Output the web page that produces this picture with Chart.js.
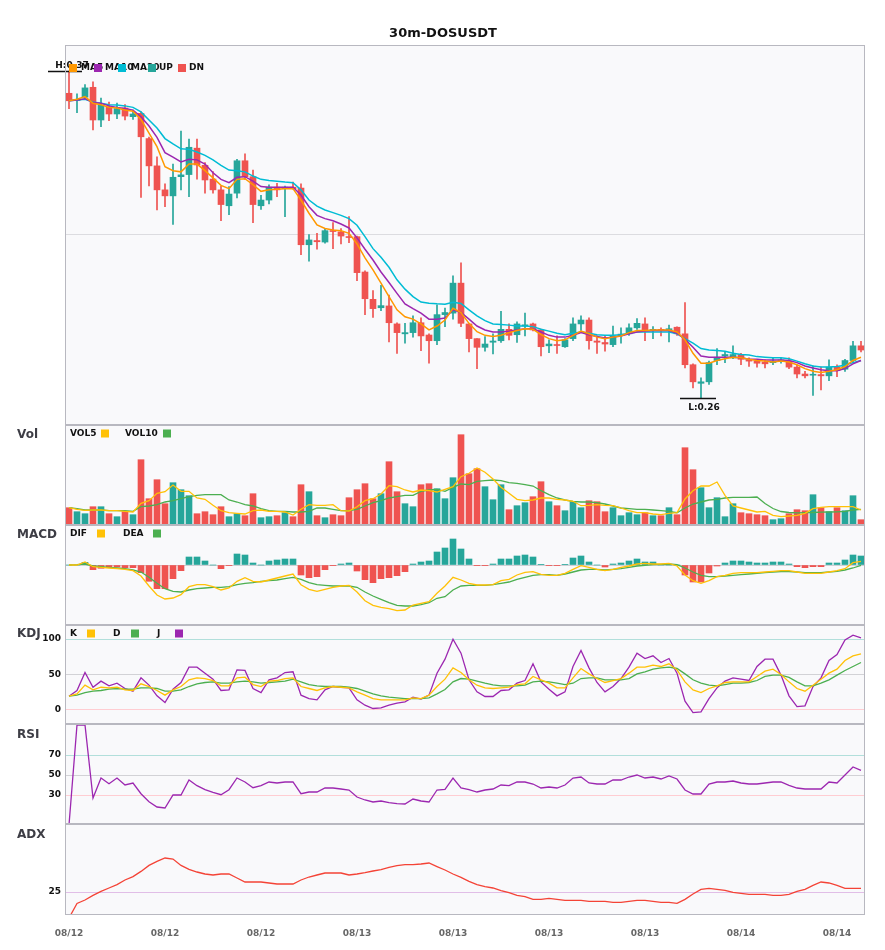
<!DOCTYPE html>
<html><head><meta charset="utf-8">
<script src="https://cdn.jsdelivr.net/npm/chart.js@4.4.1/dist/chart.umd.min.js"></script>
<style>
html,body{margin:0;padding:0;background:#fff;}
#wrap{position:relative;width:885px;height:950px;overflow:hidden;}
canvas{position:absolute;left:0;}
</style></head><body>
<div id="wrap">
<canvas id="cMain" width="885" height="425" style="top:0px"></canvas>
<canvas id="cVol" width="885" height="100" style="top:425px"></canvas>
<canvas id="cMacd" width="885" height="100" style="top:525px"></canvas>
<canvas id="cKdj" width="885" height="99" style="top:625px"></canvas>
<canvas id="cRsi" width="885" height="100" style="top:724px"></canvas>
<canvas id="cAdx" width="885" height="126" style="top:824px"></canvas>
</div>
<script>
// ---------- DATA ----------
const tickLabels = ['08/12','08/12','08/12','08/13','08/13','08/13','08/13','08/14','08/14'];
const labelEvery = 12;

const open = [.3626,.3602,.3613,.3646,.3537,.3581,.3557,.3577,.3548,.3559,
.3475,.3384,.3304,.3284,.3348,.3355,.3443,.3386,.3340,.3304,
.3251,.3293,.3401,.3348,.3251,.3270,.3313,.3308,.3313,.3310,
.3121,.3135,.3130,.3168,.3164,.3148,.3148,.3030,.2939,.2911,
.2917,.2857,.2824,.2828,.2861,.2820,.2801,.2888,.2893,.2993,
.2857,.2808,.2779,.2796,.2801,.2839,.2821,.2850,.2857,.2837,
.2784,.2788,.2781,.2808,.2857,.2870,.2800,.2795,.2788,.2818,
.2824,.2844,.2857,.2835,.2839,.2837,.2846,.2824,.2721,.2659,
.2664,.2735,.2750,.2744,.2755,.2737,.2733,.2730,.2728,.2733,
.2733,.2713,.2690,.2686,.2688,.2684,.2713,.2706,.2735,.2784];
const high = [.3700,.3624,.3655,.3664,.3610,.3597,.3593,.3588,.3570,.3564,
.3480,.3414,.3324,.3390,.3500,.3473,.3473,.3395,.3365,.3317,
.3315,.3406,.3424,.3370,.3286,.3321,.3326,.3317,.3330,.3324,
.3155,.3159,.3173,.3195,.3175,.3215,.3150,.3034,.2968,.2986,
.2953,.2861,.2859,.2884,.2877,.2824,.2921,.2910,.3017,.3061,
.2857,.2808,.2815,.2824,.2899,.2857,.2864,.2893,.2860,.2840,
.2804,.2817,.2808,.2877,.2884,.2877,.2817,.2817,.2850,.2844,
.2857,.2875,.2877,.2848,.2844,.2853,.2847,.2928,.2724,.2677,
.2733,.2775,.2764,.2784,.2759,.2744,.2737,.2737,.2746,.2744,
.2744,.2721,.2699,.2717,.2713,.2737,.2721,.2739,.2799,.2799];
const low = [.3575,.3561,.3606,.3504,.3515,.3535,.3541,.3537,.3539,.3279,
.3317,.3237,.3248,.3189,.3304,.3281,.3340,.3293,.3293,.3201,
.3221,.3277,.3339,.3195,.3239,.3257,.3281,.3215,.3306,.3088,
.3066,.3106,.3126,.3108,.3124,.3128,.3001,.2888,.2879,.2901,
.2797,.2759,.2793,.2813,.2768,.2726,.2788,.2848,.2873,.2848,
.2764,.2708,.2766,.2757,.2795,.2804,.2795,.2817,.2834,.2750,
.2761,.2759,.2779,.2801,.2835,.2773,.2759,.2766,.2781,.2793,
.2819,.2839,.2801,.2808,.2817,.2797,.2819,.2710,.2644,.2610,
.2655,.2721,.2728,.2741,.2721,.2715,.2713,.2710,.2721,.2726,
.2708,.2677,.2677,.2619,.2637,.2668,.2681,.2699,.2728,.2764];
const close = [.3601,.3605,.3644,.3537,.3586,.3557,.3575,.3550,.3557,.3481,
.3384,.3304,.3284,.3346,.3354,.3446,.3387,.3337,.3304,.3255,
.3290,.3401,.3348,.3255,.3270,.3313,.3304,.3313,.3308,.3121,
.3137,.3131,.3168,.3165,.3150,.3145,.3028,.2941,.2908,.2918,
.2861,.2828,.2828,.2861,.2817,.2801,.2888,.2895,.2993,.2859,
.2808,.2779,.2790,.2800,.2839,.2819,.2857,.2854,.2837,.2781,
.2790,.2785,.2804,.2857,.2870,.2801,.2796,.2790,.2817,.2823,
.2844,.2859,.2835,.2839,.2835,.2841,.2824,.2721,.2664,.2664,
.2728,.2746,.2755,.2755,.2739,.2733,.2726,.2724,.2733,.2737,
.2713,.2690,.2684,.2688,.2684,.2713,.2701,.2735,.2784,.2770];

const ma5 = [.3601,.3606,.3615,.3593,.3588,.3579,.3577,.3570,.3566,.3539,
.3493,.3448,.3381,.3368,.3364,.3390,.3390,.3368,.3344,.3319,
.3308,.3339,.3341,.3321,.3299,.3304,.3306,.3308,.3308,.3270,
.3226,.3187,.3175,.3170,.3168,.3159,.3124,.3077,.3037,.2993,
.2948,.2904,.2881,.2873,.2857,.2837,.2850,.2870,.2909,.2895,
.2859,.2831,.2819,.2815,.2819,.2828,.2835,.2841,.2839,.2821,
.2808,.2801,.2804,.2819,.2833,.2824,.2813,.2808,.2813,.2817,
.2828,.2835,.2835,.2837,.2837,.2837,.2830,.2804,.2759,.2726,
.2726,.2735,.2741,.2746,.2744,.2739,.2735,.2733,.2730,.2733,
.2730,.2721,.2708,.2699,.2695,.2699,.2704,.2715,.2735,.2746];
const ma10 = [.3601,.3604,.3608,.3595,.3593,.3584,.3579,.3575,.3570,.3548,
.3517,.3479,.3428,.3413,.3397,.3406,.3404,.3390,.3361,.3339,
.3328,.3346,.3348,.3333,.3315,.3313,.3313,.3313,.3313,.3287,
.3248,.3219,.3208,.3201,.3190,.3177,.3144,.3106,.3070,.3030,
.2995,.2959,.2924,.2908,.2893,.2873,.2873,.2877,.2904,.2895,
.2873,.2850,.2837,.2830,.2830,.2833,.2837,.2841,.2841,.2830,
.2819,.2813,.2813,.2819,.2828,.2821,.2815,.2810,.2813,.2817,
.2824,.2830,.2833,.2835,.2835,.2835,.2826,.2806,.2779,.2750,
.2746,.2746,.2746,.2746,.2744,.2739,.2739,.2737,.2737,.2737,
.2735,.2728,.2717,.2710,.2704,.2701,.2701,.2708,.2724,.2735];
const ma20 = [.3601,.3604,.3606,.3597,.3593,.3588,.3587,.3584,.3579,.3564,
.3537,.3510,.3475,.3457,.3441,.3439,.3430,.3419,.3404,.3386,
.3370,.3368,.3364,.3350,.3339,.3335,.3333,.3330,.3328,.3304,
.3270,.3250,.3237,.3228,.3219,.3208,.3186,.3148,.3108,.3079,
.3046,.3004,.2973,.2948,.2930,.2926,.2924,.2923,.2929,.2925,
.2904,.2884,.2868,.2857,.2855,.2853,.2850,.2850,.2848,.2839,
.2833,.2826,.2821,.2826,.2830,.2826,.2821,.2819,.2819,.2821,
.2826,.2830,.2830,.2830,.2830,.2830,.2824,.2808,.2793,.2775,
.2770,.2768,.2766,.2759,.2755,.2753,.2748,.2746,.2744,.2744,
.2741,.2733,.2724,.2717,.2713,.2713,.2715,.2719,.2728,.2735];

const volume = [173,133,113,183,183,113,83,133,103,653,
263,453,213,423,353,293,113,133,103,183,
83,113,93,313,73,83,93,123,83,403,
333,93,73,103,93,273,353,413,263,313,
633,333,213,183,403,413,363,263,473,903,
513,563,383,253,403,153,193,223,283,433,
233,193,143,233,173,243,233,133,173,93,
123,103,123,93,93,173,103,773,553,373,
173,273,83,213,123,113,103,93,53,63,
113,153,143,303,173,133,173,143,293,53];
const vol5 = [173,157,147,150,150,143,143,137,130,217,
243,317,333,400,337,337,270,257,197,143,
123,117,110,143,150,137,137,130,100,157,
203,197,197,203,143,140,183,243,263,310,
393,383,350,330,350,343,330,357,383,483,
517,570,527,460,377,317,257,243,250,270,
270,257,250,237,193,197,203,197,193,170,
143,123,123,110,103,117,123,260,343,390,
390,430,297,190,170,150,130,137,97,83,
90,97,117,163,177,183,183,183,183,150];
const vol10 = [173,163,150,150,150,143,143,143,137,183,
190,203,230,243,263,283,297,303,303,303,
250,230,203,190,163,143,137,137,130,130,
137,170,170,157,143,143,157,190,223,243,
270,283,297,297,337,350,357,337,377,410,
403,437,443,450,443,423,417,403,390,343,
303,270,250,237,230,230,223,210,190,170,
163,157,157,150,143,137,123,170,210,230,
250,257,270,277,277,277,280,215,165,135,
125,122,123,125,128,130,132,137,150,157];

const macdHist = [0,0,0.00027,-0.00047,-0.00033,-0.00027,-0.0002,-0.00027,-0.00027,-0.00077,
-0.00163,-0.00237,-0.00237,-0.00137,-0.00057,0.0008,0.0008,0.0004,0,-0.00037,
-0.00007,0.0011,0.001,0.0002,0,0.0004,0.0005,0.0006,0.0006,-0.001,
-0.00127,-0.00117,-0.00047,-0.00007,0.0001,0.0002,-0.0006,-0.00147,-0.00177,-0.00137,
-0.00127,-0.00107,-0.00067,0.0001,0.0003,0.0004,0.0013,0.0017,0.0026,0.0016,
0.0006,-0.00007,-0.00007,0.0001,0.0006,0.0006,0.0009,0.001,0.0008,0.00007,
-0.00007,-0.00007,0.00007,0.0007,0.0009,0.0003,0,-0.0002,0.0001,0.0002,
0.0004,0.0006,0.0003,0.0003,0,0,0,-0.001,-0.0017,-0.0017,
-0.0008,-0.0001,0.0002,0.0004,0.0004,0.0003,0.0002,0.0002,0.0003,0.0003,
0.0001,-0.00017,-0.00027,-0.00017,-0.00017,0.0002,0.0002,0.0005,0.001,0.0009];
const dif = [0,0,0.0003,-0.00017,-0.00023,-0.0003,-0.00037,-0.00043,-0.00057,-0.0011,
-0.0021,-0.003,-0.0034,-0.0033,-0.00297,-0.00217,-0.00197,-0.00197,-0.00217,-0.0025,
-0.0023,-0.00163,-0.00127,-0.00163,-0.0017,-0.0015,-0.0013,-0.0011,-0.0009,-0.00197,
-0.00243,-0.00263,-0.00243,-0.00223,-0.0021,-0.00203,-0.0027,-0.00357,-0.00403,-0.00423,
-0.00437,-0.00457,-0.0045,-0.004,-0.00383,-0.00367,-0.00283,-0.0021,-0.00123,-0.0015,
-0.00183,-0.002,-0.002,-0.00197,-0.00157,-0.00143,-0.001,-0.00073,-0.00067,-0.00093,
-0.00103,-0.00103,-0.00083,-0.00043,-0.00007,-0.00023,-0.00043,-0.00057,-0.00043,-0.00023,
-0.0001,0.0001,0.00017,0.0001,0.0001,0.00017,-0.0001,-0.001,-0.00157,-0.00183,
-0.00157,-0.00117,-0.00103,-0.00083,-0.00077,-0.00077,-0.00077,-0.0007,-0.00063,-0.00057,
-0.00057,-0.0007,-0.00083,-0.00083,-0.00083,-0.0007,-0.00057,-0.00037,0.00023,0.00037];
const dea = [0,0.00003,0.0001,-0.0001,-0.00017,-0.00023,-0.0003,-0.00037,-0.0005,-0.0007,
-0.00123,-0.00183,-0.00237,-0.00263,-0.0027,-0.0025,-0.00237,-0.0023,-0.00223,-0.00223,
-0.00217,-0.00197,-0.00183,-0.00177,-0.00163,-0.00157,-0.0015,-0.00137,-0.00123,-0.00143,
-0.00177,-0.00197,-0.00203,-0.0021,-0.0021,-0.0021,-0.00223,-0.0027,-0.0031,-0.00343,
-0.00377,-0.00403,-0.0041,-0.0041,-0.00397,-0.00377,-0.00333,-0.00317,-0.0025,-0.0021,
-0.00203,-0.00203,-0.00203,-0.00197,-0.00183,-0.0017,-0.00143,-0.00123,-0.00103,-0.00097,
-0.00097,-0.00103,-0.0009,-0.0007,-0.0005,-0.00043,-0.00043,-0.0005,-0.00043,-0.00037,
-0.00023,-0.0001,-0.00003,0.00003,0.00007,0.0001,0.00003,-0.0003,-0.0007,-0.00103,
-0.00117,-0.00117,-0.0011,-0.00103,-0.00097,-0.0009,-0.00083,-0.00077,-0.0007,-0.00067,
-0.00067,-0.0007,-0.00077,-0.00077,-0.00077,-0.0007,-0.00063,-0.0005,-0.0003,-0.00003];

const kLine = [19.3,22.6,34.9,28.3,32,31,32,28.3,27.4,36.8,
33,27.4,20.8,28.3,33,42.5,45.3,44.3,41.5,34,
34,45.3,46.2,35.8,33,40.6,41.5,44.3,45.3,33,
30.2,27.4,31.1,33,32,31.1,25.5,20.8,16,14.2,
14.2,14.2,14.2,17,16,20.8,33,43.4,59.4,52.8,
42.5,34.9,31.1,30.2,31.1,32,35.8,36.8,47.2,42.5,
37.7,31.1,31.1,45.3,58.5,50.9,44.3,38.7,41.5,44.3,
51.9,60.4,60.4,63.2,61.3,65.1,56.6,39.6,28.3,24.5,
30.2,34,38.7,39.6,39.6,39.6,47.2,54.7,57.5,50,
39.6,30.2,26.4,34.9,43.4,51.9,57.5,69.8,76.4,79.2];
const dLine = [19.3,20.8,24.5,26.4,27.4,29.2,30.2,29.2,29.2,31.1,
31.1,30.2,26.4,26.4,28.3,33,36.8,38.7,39.6,37.7,
37.7,39.6,40.6,39.6,37.7,38.7,39.6,40.6,43.4,39.6,
35.8,34,33,33,33,32,30.2,26.4,22.6,19.8,
17.9,17,16,16,16,17,22.6,28.8,39.6,44.3,
43.4,40.6,37.7,35.4,34,34,34,35,39.6,40.6,
39.6,37.7,35.8,37.7,44.3,45.3,45.3,42.5,42.5,42.5,
44.3,50.9,53.8,57.5,59.4,60.4,58.5,50.9,42.5,37.7,
35,34,35.8,37.7,37.7,38.7,41.5,47.2,49.1,49.1,
45.8,39.6,34,34,37.7,42.5,49.1,55.7,61.3,67];
const jLine = [19.3,27.4,52.8,32,40.6,34,37.7,30.2,26.4,45.3,
35,19.8,10.4,29.2,38.7,60.4,60.4,51.9,43.4,27.4,
28.3,56.6,55.7,30.2,24.5,42.5,45.3,52.8,53.8,20.8,
16,14.2,28.3,33,32,31.1,14.2,6.6,1.9,2.8,
6.6,9.4,11.3,17.9,15.1,20.8,51.9,71.7,100,80.2,
42.5,25.5,18.9,18.9,27.4,28.3,37.7,41.5,65.1,39.6,
29.2,19.8,25.5,61.3,84,59.4,38.7,25.5,33,44.3,
60.4,80.2,72.6,76.4,67,72.6,51.9,12.3,-3.8,-2.8,
16,31.1,40.6,45.3,43.4,41.5,61.3,71.7,71.7,49.1,
19.8,4.7,5.7,33,45.3,69.8,78.3,99,105.7,101.9];

const rsi = [0,100,100,27,47,41.3,47,40,42,31.3,
23.3,18,17,30,30,45,39.3,35.3,32.7,30.3,
35.3,47,43,37.3,39.3,43,42,43,43,31.3,
33,33,37,37,36,35,28,25,23,24,
22.3,21.3,21,26,24,23,35,35.7,47,37,
35.3,33,35,36,40,39.3,43,43,41,37,
38,37,40,47,48,42,41,41,45,45,
48,50,47,48,46,49,46,35,31,31,
41,43,43,44,42,41,41,42,43,43,
39.7,37,36,36,36,43,42,50,58,54.7];

const adx = [12,19.3,21,23.3,25.3,27,28.7,31,32.7,35.3,
38.3,40.3,42,41.5,38.3,36.3,35,34,33.5,34,
34,32,30,30,30,29.5,29,29,29,31,
32.5,33.5,34.5,34.5,34.5,33.5,34,34.7,35.5,36.2,
37.3,38.2,38.7,38.7,39,39.5,37.7,36,34,32.3,
30.3,28.7,27.7,27,25.7,24.7,23.3,22.7,21.3,21.3,
21.8,21.3,20.8,20.8,20.8,20.3,20.3,20.3,19.8,19.8,
20.3,20.8,20.8,20.3,19.8,19.8,19.3,21.3,24,26.3,
26.8,26.3,25.8,24.8,24.3,23.8,23.8,23.8,23.3,23.3,
23.8,25.3,26.3,28.3,30,29.5,28.3,26.8,26.8,26.8];

// ---------- STYLE ----------
const FONT = '"DejaVu Sans", "Liberation Sans", sans-serif';
const UP = '#26a69a', DN = '#ef5350';
const C_ORANGE = '#ff9800', C_PURPLE = '#9c27b0', C_CYAN = '#00bcd4';
const C_YELLOW = '#ffc107', C_GREEN = '#4caf50', C_ADX = '#f44336';
const categories = close.map((_, i) => i);
const candleColor = close.map((c, i) => c >= open[i] ? UP : DN);

function makeOptions(cfg) {
  return {
    responsive: false, animation: false, devicePixelRatio: 1,
    layout: { padding: { left: 0, right: 20, top: cfg.padTop || 0, bottom: 0 } },
    plugins: { legend: { display: false }, tooltip: { enabled: false }, title: { display: false } },
    scales: {
      x: {
        type: 'category', offset: true, display: !!cfg.showX,
        grid: { display: false, drawTicks: false }, border: { display: false },
        ticks: {
          autoSkip: false, maxRotation: 0, minRotation: 0, padding: 13, color: '#666',
          font: { family: FONT, size: 9, weight: 'bold' },
          callback: (v, i) => (i % labelEvery === 0 ? tickLabels[i / labelEvery] : '')
        },
        afterFit: s => { if (cfg.showX) s.height = 35; s.paddingLeft = 0; s.paddingRight = 0; }
      },
      y: {
        type: 'linear', position: 'left', min: cfg.min, max: cfg.max,
        border: { display: false },
        grid: { drawTicks: false, lineWidth: 1, color: c => cfg.gridColor(c.tick ? c.tick.value : null) },
        ticks: { display: !!cfg.showLabels, padding: 4, color: '#111', font: { family: FONT, size: 9, weight: 'bold' } },
        afterBuildTicks: s => { s.ticks = cfg.tickVals.map(v => ({ value: v })); },
        afterFit: s => { s.width = 65; s.paddingTop = 0; s.paddingBottom = 0; }
      }
    }
  };
}

function panelPlugin(cfg) {
  return {
    id: 'panel_' + cfg.name,
    beforeDraw(chart) {
      const { ctx, chartArea: a } = chart;
      ctx.save();
      ctx.fillStyle = '#f9f9fb';
      ctx.fillRect(a.left, a.top, a.right - a.left, a.bottom - a.top);
      ctx.restore();
    },
    afterDraw(chart) {
      const { ctx, chartArea: a } = chart;
      ctx.save();
      ctx.strokeStyle = '#b8b8c0'; ctx.lineWidth = 1;
      ctx.strokeRect(a.left + 0.5, a.top + 0.5, a.right - a.left - 1, a.bottom - a.top - 1);
      ctx.textBaseline = 'middle'; ctx.textAlign = 'left';
      if (cfg.title) {
        ctx.font = 'bold 13px ' + FONT; ctx.fillStyle = '#111'; ctx.textAlign = 'center';
        ctx.fillText(cfg.title, 443, 34);
        ctx.textAlign = 'left';
      }
      if (cfg.label) {
        ctx.font = 'bold 12px ' + FONT; ctx.fillStyle = '#3d3d45';
        ctx.fillText(cfg.label, 17, cfg.labelY);
      }
      if (cfg.extra) cfg.extra(chart, ctx);
      if (cfg.legend) {
        ctx.font = 'bold 9px ' + FONT; ctx.textAlign = 'left'; ctx.textBaseline = 'middle';
        cfg.legend.forEach(it => {
          if (it.box) { ctx.fillStyle = it.box; ctx.fillRect(it.x, cfg.legendY - 4, 8, 8); }
          else { ctx.fillStyle = '#111'; ctx.fillText(it.text, it.x, cfg.legendY); }
        });
      }
      ctx.restore();
    }
  };
}

function lineDs(label, data, color, w) {
  return { type: 'line', label, data, borderColor: color, backgroundColor: color, borderWidth: w || 1.3,
           pointRadius: 0, tension: 0, fill: false, order: 0 };
}

// ---------- MAIN (candles + MA) ----------
const hiMarks = {
  id: 'hilo',
  afterDatasetsDraw(chart) {
    const { ctx, scales: { x, y } } = chart;
    let hi = 0, lo = 0;
    high.forEach((v, i) => { if (v > high[hi]) hi = i; });
    low.forEach((v, i) => { if (v < low[lo]) lo = i; });
    ctx.save();
    ctx.strokeStyle = '#111'; ctx.lineWidth = 1.5; ctx.fillStyle = '#111';
    ctx.font = 'bold 9px ' + FONT; ctx.textAlign = 'center';
    const hx = x.getPixelForValue(hi), hy = Math.round(y.getPixelForValue(high[hi]));
    ctx.beginPath(); ctx.moveTo(hx - 21, hy + 0.5); ctx.lineTo(hx + 13, hy + 0.5); ctx.stroke();
    ctx.textBaseline = 'alphabetic';
    ctx.fillText('H:' + high[hi].toFixed(2), hx + 3, hy - 3);
    const lx = x.getPixelForValue(lo), ly = Math.round(y.getPixelForValue(low[lo]));
    ctx.beginPath(); ctx.moveTo(lx - 21, ly + 0.5); ctx.lineTo(lx + 15, ly + 0.5); ctx.stroke();
    ctx.textBaseline = 'top';
    ctx.fillText('L:' + low[lo].toFixed(2), lx + 3, ly + 5);
    ctx.restore();
  }
};

new Chart(document.getElementById('cMain'), {
  type: 'bar',
  data: {
    labels: categories,
    datasets: [
      lineDs('MA5', ma5, C_ORANGE, 1.5),
      lineDs('MA10', ma10, C_PURPLE, 1.5),
      lineDs('MA20', ma20, C_CYAN, 1.5),
      { type: 'bar', label: 'wick', data: low.map((l, i) => [l, high[i]]), backgroundColor: candleColor,
        barThickness: 1, grouped: false, borderWidth: 0, order: 2 },
      { type: 'bar', label: 'body', data: open.map((o, i) => [o, close[i]]), backgroundColor: candleColor,
        barThickness: 6, grouped: false, borderWidth: 0, minBarLength: 1, order: 1 }
    ]
  },
  options: makeOptions({ min: 0.252, max: 0.3787, tickVals: [0.31535], gridColor: () => '#dcdce0', padTop: 45 }),
  plugins: [hiMarks, panelPlugin({
    name: 'main', title: '30m-DOSUSDT', legendY: 68,
    legend: [
      { box: C_ORANGE, x: 69 }, { text: 'MA5', x: 81 },
      { box: C_PURPLE, x: 94 }, { text: 'MA10', x: 105 },
      { box: C_CYAN, x: 118 }, { text: 'MA20', x: 131 },
      { box: UP, x: 148 }, { text: 'UP', x: 159 },
      { box: DN, x: 178 }, { text: 'DN', x: 189 }
    ]
  })]
});

// ---------- VOLUME ----------
new Chart(document.getElementById('cVol'), {
  type: 'bar',
  data: {
    labels: categories,
    datasets: [
      lineDs('VOL5', vol5, C_YELLOW),
      lineDs('VOL10', vol10, C_GREEN),
      { type: 'bar', label: 'Vol', data: volume, backgroundColor: candleColor, barThickness: 6, borderWidth: 0, grouped: false, order: 1 }
    ]
  },
  options: makeOptions({ min: 0, max: 1000, tickVals: [], gridColor: () => 'transparent' }),
  plugins: [panelPlugin({
    name: 'vol', label: 'Vol', labelY: 10, legendY: 8.5,
    legend: [{ text: 'VOL5', x: 70 }, { box: C_YELLOW, x: 101 }, { text: 'VOL10', x: 125 }, { box: C_GREEN, x: 163 }]
  })]
});

// ---------- MACD ----------
new Chart(document.getElementById('cMacd'), {
  type: 'bar',
  data: {
    labels: categories,
    datasets: [
      lineDs('DIF', dif, C_YELLOW),
      lineDs('DEA', dea, C_GREEN),
      { type: 'bar', label: 'MACD', data: macdHist, backgroundColor: macdHist.map(v => v >= 0 ? UP : DN),
        barThickness: 6, borderWidth: 0, grouped: false, order: 1 }
    ]
  },
  options: makeOptions({ min: -0.006, max: 0.004, tickVals: [0], gridColor: () => '#cfcfd4' }),
  plugins: [panelPlugin({
    name: 'macd', label: 'MACD', labelY: 10, legendY: 8.5,
    legend: [{ text: 'DIF', x: 70 }, { box: C_YELLOW, x: 97 }, { text: 'DEA', x: 123 }, { box: C_GREEN, x: 153 }]
  })]
});

// ---------- KDJ ----------
new Chart(document.getElementById('cKdj'), {
  type: 'line',
  data: { labels: categories, datasets: [lineDs('K', kLine, C_YELLOW), lineDs('D', dLine, C_GREEN), lineDs('J', jLine, C_PURPLE)] },
  options: makeOptions({ min: -20, max: 120, tickVals: [0, 50, 100], showLabels: true,
    gridColor: v => v === 100 ? '#b2dfdb' : v === 50 ? '#d2d2d6' : '#ffcdd2' }),
  plugins: [panelPlugin({
    name: 'kdj', label: 'KDJ', labelY: 9, legendY: 8.5,
    legend: [{ text: 'K', x: 70 }, { box: C_YELLOW, x: 87 }, { text: 'D', x: 113 }, { box: C_GREEN, x: 131 },
             { text: 'J', x: 157 }, { box: C_PURPLE, x: 175 }]
  })]
});

// ---------- RSI ----------
new Chart(document.getElementById('cRsi'), {
  type: 'line',
  data: { labels: categories, datasets: [lineDs('RSI', rsi, C_PURPLE)] },
  options: makeOptions({ min: 1, max: 101, tickVals: [30, 50, 70], showLabels: true,
    gridColor: v => v === 70 ? '#b2dfdb' : v === 50 ? '#d2d2d6' : '#ffcdd2' }),
  plugins: [panelPlugin({ name: 'rsi', label: 'RSI', labelY: 11 })]
});

// ---------- ADX ----------
new Chart(document.getElementById('cAdx'), {
  type: 'line',
  data: { labels: categories, datasets: [lineDs('ADX', adx, C_ADX)] },
  options: makeOptions({ min: 13.5, max: 59, tickVals: [25], showLabels: true, showX: true,
    gridColor: () => '#e1bee7' }),
  plugins: [panelPlugin({ name: 'adx', label: 'ADX', labelY: 11 })]
});
</script>
</body></html>
